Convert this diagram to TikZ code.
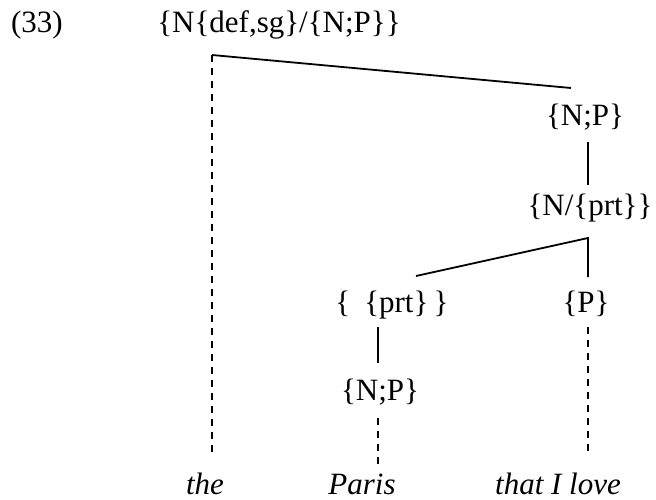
\documentclass[tikz,border=0pt]{standalone}
\usepackage{fontspec}
\setmainfont{Liberation Serif}
\tikzset{
  lbl/.style={anchor=base, inner sep=0pt, font=\fontsize{31}{36}\selectfont},
  wrd/.style={lbl, font=\fontsize{31}{36}\selectfont\itshape},
  solidline/.style={line width=1.8pt},
  dashline/.style={line width=1.8pt, dash pattern=on 7pt off 6pt}
}
\begin{document}
\begin{tikzpicture}[x=1pt, y=-1pt]
\useasboundingbox (0,0) rectangle (656,500);
% labels
\node[lbl] (ex) at (37,33) {(33)};
\node[lbl] (top) at (279,33) {\{N\{def,sg\}/\{N;P\}\}};
\node[lbl] (np1) at (585,126) {\{N;P\}};
\node[lbl] (nprt) at (590,215) {\{N/\{prt\}\}};
\node[lbl] (prt) at (392,312) {\{\hspace{0.45em}\{prt\}\,\}};
\node[lbl] (p) at (586,312) {\{P\}};
\node[lbl] (np2) at (380,400) {\{N;P\}};
\node[wrd] (the) at (205,494) {the};
\node[wrd] (paris) at (362,494) {Paris};
\node[wrd] (love) at (558,494) {that I love};
% junction points
\coordinate (c1) at (212,55);
\coordinate (c1b) at (212,453);
\coordinate (c2) at (571,88);
\coordinate (c3) at (588,142);
\coordinate (c4) at (588,185);
\coordinate (c5) at (588,238);
\coordinate (c6) at (588,277);
\coordinate (c7) at (416,276);
\coordinate (c8) at (378,327);
\coordinate (c9) at (378,363);
\coordinate (c10) at (378,418);
\coordinate (c11) at (378,467);
\coordinate (c12) at (588,327);
\coordinate (c13) at (588,457);
% connectors
\draw[solidline] (c1) -- (c2);
\draw[dashline] (c1) -- (c1b);
\draw[solidline] (c3) -- (c4);
\draw[solidline] (c7) -- (c5) -- (c6);
\draw[solidline] (c8) -- (c9);
\draw[dashline] (c10) -- (c11);
\draw[dashline] (c12) -- (c13);
\end{tikzpicture}
\end{document}
